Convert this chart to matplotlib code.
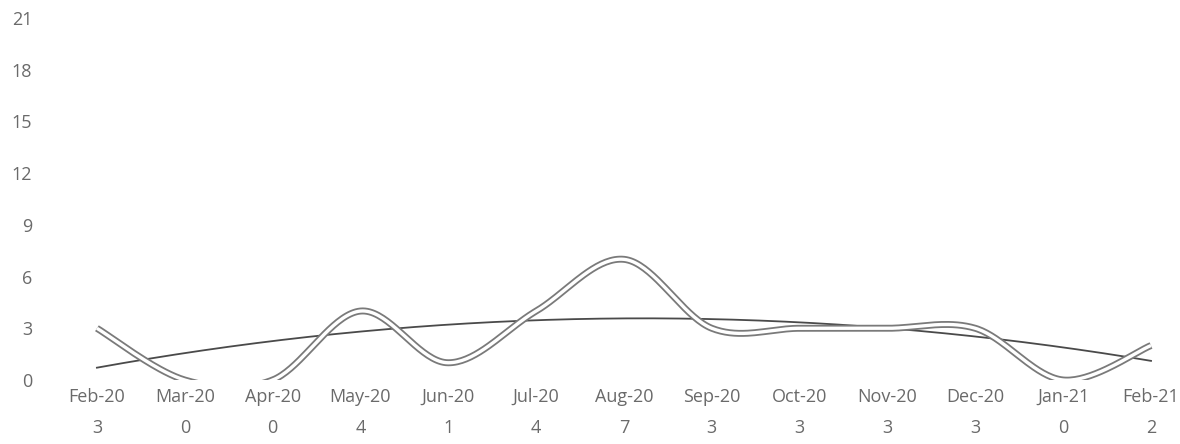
import numpy as np
import matplotlib
matplotlib.use("Agg")
import matplotlib.pyplot as plt

# chart data
months = ["Feb-20", "Mar-20", "Apr-20", "May-20", "Jun-20", "Jul-20", "Aug-20",
          "Sep-20", "Oct-20", "Nov-20", "Dec-20", "Jan-21", "Feb-21"]
counts = [3, 0, 0, 4, 1, 4, 7, 3, 3, 3, 3, 0, 2]
y_ticks = [0, 3, 6, 9, 12, 15, 18, 21]


def smooth_curve(y, steps=40):
    # Excel-style smoothed line: cubic Bezier with Catmull-Rom control points
    y = np.asarray(y, dtype=float)
    x = np.arange(len(y), dtype=float)
    xs, ys = [], []
    n = len(y)
    for i in range(n - 1):
        p0 = (x[max(i - 1, 0)], y[max(i - 1, 0)])
        p1 = (x[i], y[i])
        p2 = (x[i + 1], y[i + 1])
        p3 = (x[min(i + 2, n - 1)], y[min(i + 2, n - 1)])
        c1 = (p1[0] + (p2[0] - p0[0]) / 6, p1[1] + (p2[1] - p0[1]) / 6)
        c2 = (p2[0] - (p3[0] - p1[0]) / 6, p2[1] - (p3[1] - p1[1]) / 6)
        t = np.linspace(0, 1, steps)
        bx = ((1 - t) ** 3 * p1[0] + 3 * (1 - t) ** 2 * t * c1[0]
              + 3 * (1 - t) * t ** 2 * c2[0] + t ** 3 * p2[0])
        by = ((1 - t) ** 3 * p1[1] + 3 * (1 - t) ** 2 * t * c1[1]
              + 3 * (1 - t) * t ** 2 * c2[1] + t ** 3 * p2[1])
        xs.extend(bx)
        ys.extend(by)
    return np.array(xs), np.array(ys)


plt.rcParams["font.family"] = ["Open Sans", "DejaVu Sans"]
text_col = "#6a6a6a"
fsize = 13

fig = plt.figure(figsize=(11.8, 4.44), dpi=100)
ax = fig.add_axes([53 / 1180, 1 - 380 / 444, 1 - 53 / 1180, (380 - 18) / 444])

x = np.arange(len(counts))
sx, sy = smooth_curve(counts)

# trend line (2nd order polynomial)
coef = np.polyfit(x, counts, 2)
tx = np.linspace(0, len(counts) - 1, 200)
ax.plot(tx, np.polyval(coef, tx), color="#4a4a4a", lw=1.3, zorder=2)

# double line look: grey outline with white centre
ax.plot(sx, sy, color="#7a7a7a", lw=5, solid_capstyle="butt", zorder=3)
ax.plot(sx, sy, color="white", lw=2.4, solid_capstyle="butt", zorder=4)

ax.set_xlim(-0.5, 12.33)
ax.set_ylim(0, 21)
ax.set_yticks(y_ticks)
ax.set_yticklabels([str(v) for v in y_ticks], color=text_col, fontsize=fsize)
ax.tick_params(axis="y", length=0, pad=15)
ax.set_xticks([])
for s in ax.spines.values():
    s.set_visible(False)

for i, (m, c) in enumerate(zip(months, counts)):
    ax.annotate(m, xy=(i, 0), xycoords=("data", "axes fraction"),
                xytext=(0, -17), textcoords="offset pixels",
                ha="center", va="center", color=text_col, fontsize=fsize)
    ax.annotate(str(c), xy=(i, 0), xycoords=("data", "axes fraction"),
                xytext=(0, -48), textcoords="offset pixels",
                ha="center", va="center", color=text_col, fontsize=fsize)

fig.savefig("out.png", dpi=100)
